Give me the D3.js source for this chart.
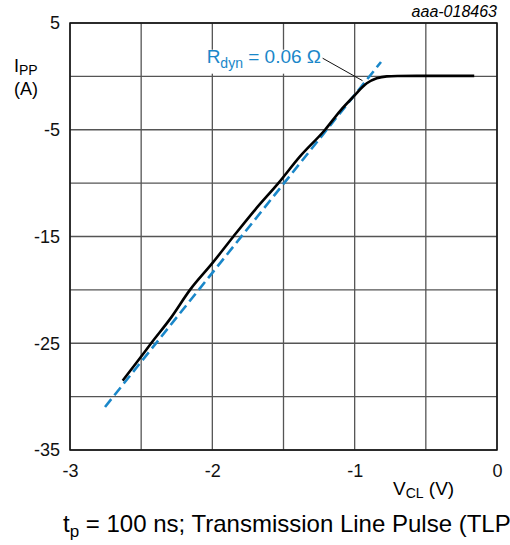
<!DOCTYPE html>
<html>
<head>
<meta charset="utf-8">
<script src="https://cdn.jsdelivr.net/npm/d3@7"></script>
<style>
  body { margin: 0; background: #fff; }
  svg { font-family: "Liberation Sans", Arial, sans-serif; }
  .grid line { stroke: #555; stroke-width: 1.3; }
  .axis text { font-size: 18px; fill: #111; }
</style>
</head>
<body>
<div id="chart"></div>
<script>
const vclValues = [-2.63, -2.52, -2.43, -2.29, -2.157, -2.0, -1.852, -1.70, -1.536, -1.384, -1.208, -1.10, -1.009, -0.915, -0.845, -0.774, -0.70, -0.50, -0.30, -0.16];
const ippValues = [-28.5, -26.6, -25, -22.6, -20, -17.5, -15, -12.5, -10, -7.5, -5, -3.2, -1.9, -0.65, -0.18, 0, 0.03, 0.05, 0.05, 0.05];

// dashed fit line, Rdyn = 0.06 ohm
const fitVcl = [-2.754, -0.815];
const fitIpp = [-30.97, 1.35];

const xTicks = [-3, -2, -1, 0];
const yTicks = [5, -5, -15, -25, -35];
const xGrid = [-3, -2.5, -2, -1.5, -1, -0.5, 0];
const yGrid = [5, 0, -5, -10, -15, -20, -25, -30, -35];

class TlpChart {
    constructor(_config) {
        this.config = {
            parentElement: _config.parentElement,
            containerWidth: _config.containerWidth || 510,
            containerHeight: _config.containerHeight || 545,
            margin: _config.margin || {top: 23, right: 13, bottom: 95, left: 70}
        };
        this.initVis();
    }

    initVis() {
        let vis = this;
        vis.width = vis.config.containerWidth - vis.config.margin.left - vis.config.margin.right;
        vis.height = vis.config.containerHeight - vis.config.margin.top - vis.config.margin.bottom;

        vis.xScale = d3.scaleLinear().domain([-3, 0]).range([0, vis.width]);
        vis.yScale = d3.scaleLinear().domain([-35, 5]).range([vis.height, 0]);

        vis.svg = d3.select(vis.config.parentElement).append('svg')
            .attr('width', vis.config.containerWidth)
            .attr('height', vis.config.containerHeight);

        vis.chart = vis.svg.append('g')
            .attr('transform', `translate(${vis.config.margin.left},${vis.config.margin.top})`);
    }

    renderVis() {
        let vis = this;

        // gridlines
        const grid = vis.chart.append('g').attr('class', 'grid');
        grid.selectAll('.vg').data(xGrid).join('line')
            .attr('x1', d => vis.xScale(d)).attr('x2', d => vis.xScale(d))
            .attr('y1', 0).attr('y2', vis.height);
        grid.selectAll('.hg').data(yGrid).join('line')
            .attr('x1', 0).attr('x2', vis.width)
            .attr('y1', d => vis.yScale(d)).attr('y2', d => vis.yScale(d));

        vis.chart.append('rect')
            .attr('width', vis.width).attr('height', vis.height)
            .attr('fill', 'none').attr('stroke', '#111').attr('stroke-width', 1.5);

        // axes, tick text only (plain hyphen minus like the datasheet)
        const xAxis = d3.axisBottom(vis.xScale).tickValues(xTicks).tickSize(0).tickPadding(14).tickFormat(d => String(d));
        const yAxis = d3.axisLeft(vis.yScale).tickValues(yTicks).tickSize(0).tickPadding(10).tickFormat(d => String(d));
        vis.chart.append('g').attr('class', 'axis')
            .attr('transform', `translate(0,${vis.height})`)
            .call(xAxis).call(g => g.select('.domain').remove());
        vis.chart.append('g').attr('class', 'axis')
            .call(yAxis).call(g => g.select('.domain').remove());

        // fit line
        const fitData = fitVcl.map((v, i) => ({v: v, i: fitIpp[i]}));
        const line = d3.line().x(d => vis.xScale(d.v)).y(d => vis.yScale(d.i));
        vis.chart.append('path')
            .datum(fitData)
            .attr('d', line)
            .attr('fill', 'none')
            .attr('stroke', '#1a87c9')
            .attr('stroke-width', 2.6)
            .attr('stroke-dasharray', '10,5');

        // measured curve
        const curveData = vclValues.map((v, i) => ({v: v, i: ippValues[i]}));
        vis.chart.append('path')
            .datum(curveData)
            .attr('d', line.curve(d3.curveMonotoneX))
            .attr('fill', 'none')
            .attr('stroke', '#000')
            .attr('stroke-width', 2.6)
            .attr('stroke-linejoin', 'round');

        // Rdyn annotation with white box behind it
        vis.chart.append('rect')
            .attr('x', vis.xScale(-2.06)).attr('y', vis.yScale(2.5))
            .attr('width', 122).attr('height', 24)
            .attr('fill', '#fff');
        const lbl = vis.chart.append('text')
            .attr('x', vis.xScale(-2.04)).attr('y', vis.yScale(1.25))
            .attr('fill', '#1a87c9').style('font-size', '19px');
        lbl.append('tspan').text('R');
        lbl.append('tspan').attr('dy', 5).style('font-size', '14px').text('dyn');
        lbl.append('tspan').attr('dy', -5).text(' = 0.06 Ω');
        vis.chart.append('line')
            .attr('x1', vis.xScale(-1.225)).attr('y1', vis.yScale(1.7))
            .attr('x2', vis.xScale(-0.945)).attr('y2', vis.yScale(-0.4))
            .attr('stroke', '#111').attr('stroke-width', 1);

        // titles
        const yt = vis.svg.append('text').attr('x', 14).attr('y', 72).style('font-size', '18px');
        yt.append('tspan').text('I');
        yt.append('tspan').attr('dy', 3).style('font-size', '14px').text('PP');
        vis.svg.append('text').attr('x', 14).attr('y', 95).style('font-size', '18px').text('(A)');

        const xt = vis.svg.append('text').attr('x', 393).attr('y', 495).style('font-size', '19px');
        xt.append('tspan').text('V');
        xt.append('tspan').attr('dy', 3).style('font-size', '14px').text('CL');
        xt.append('tspan').attr('dy', -3).text(' (V)');

        vis.svg.append('text').attr('x', 497).attr('y', 17)
            .attr('text-anchor', 'end').style('font-size', '16px').style('font-style', 'italic')
            .text('aaa-018463');

        // caption runs past the right edge, as in the datasheet crop
        const cap = vis.svg.append('text').attr('x', 63).attr('y', 532).style('font-size', '24px');
        cap.append('tspan').text('t');
        cap.append('tspan').attr('dy', 5).style('font-size', '17px').text('p');
        cap.append('tspan').attr('dy', -5).text(' = 100 ns; Transmission Line Pulse (TLP)');
    }
}

const chart = new TlpChart({parentElement: '#chart'});
chart.renderVis();
</script>
</body>
</html>
